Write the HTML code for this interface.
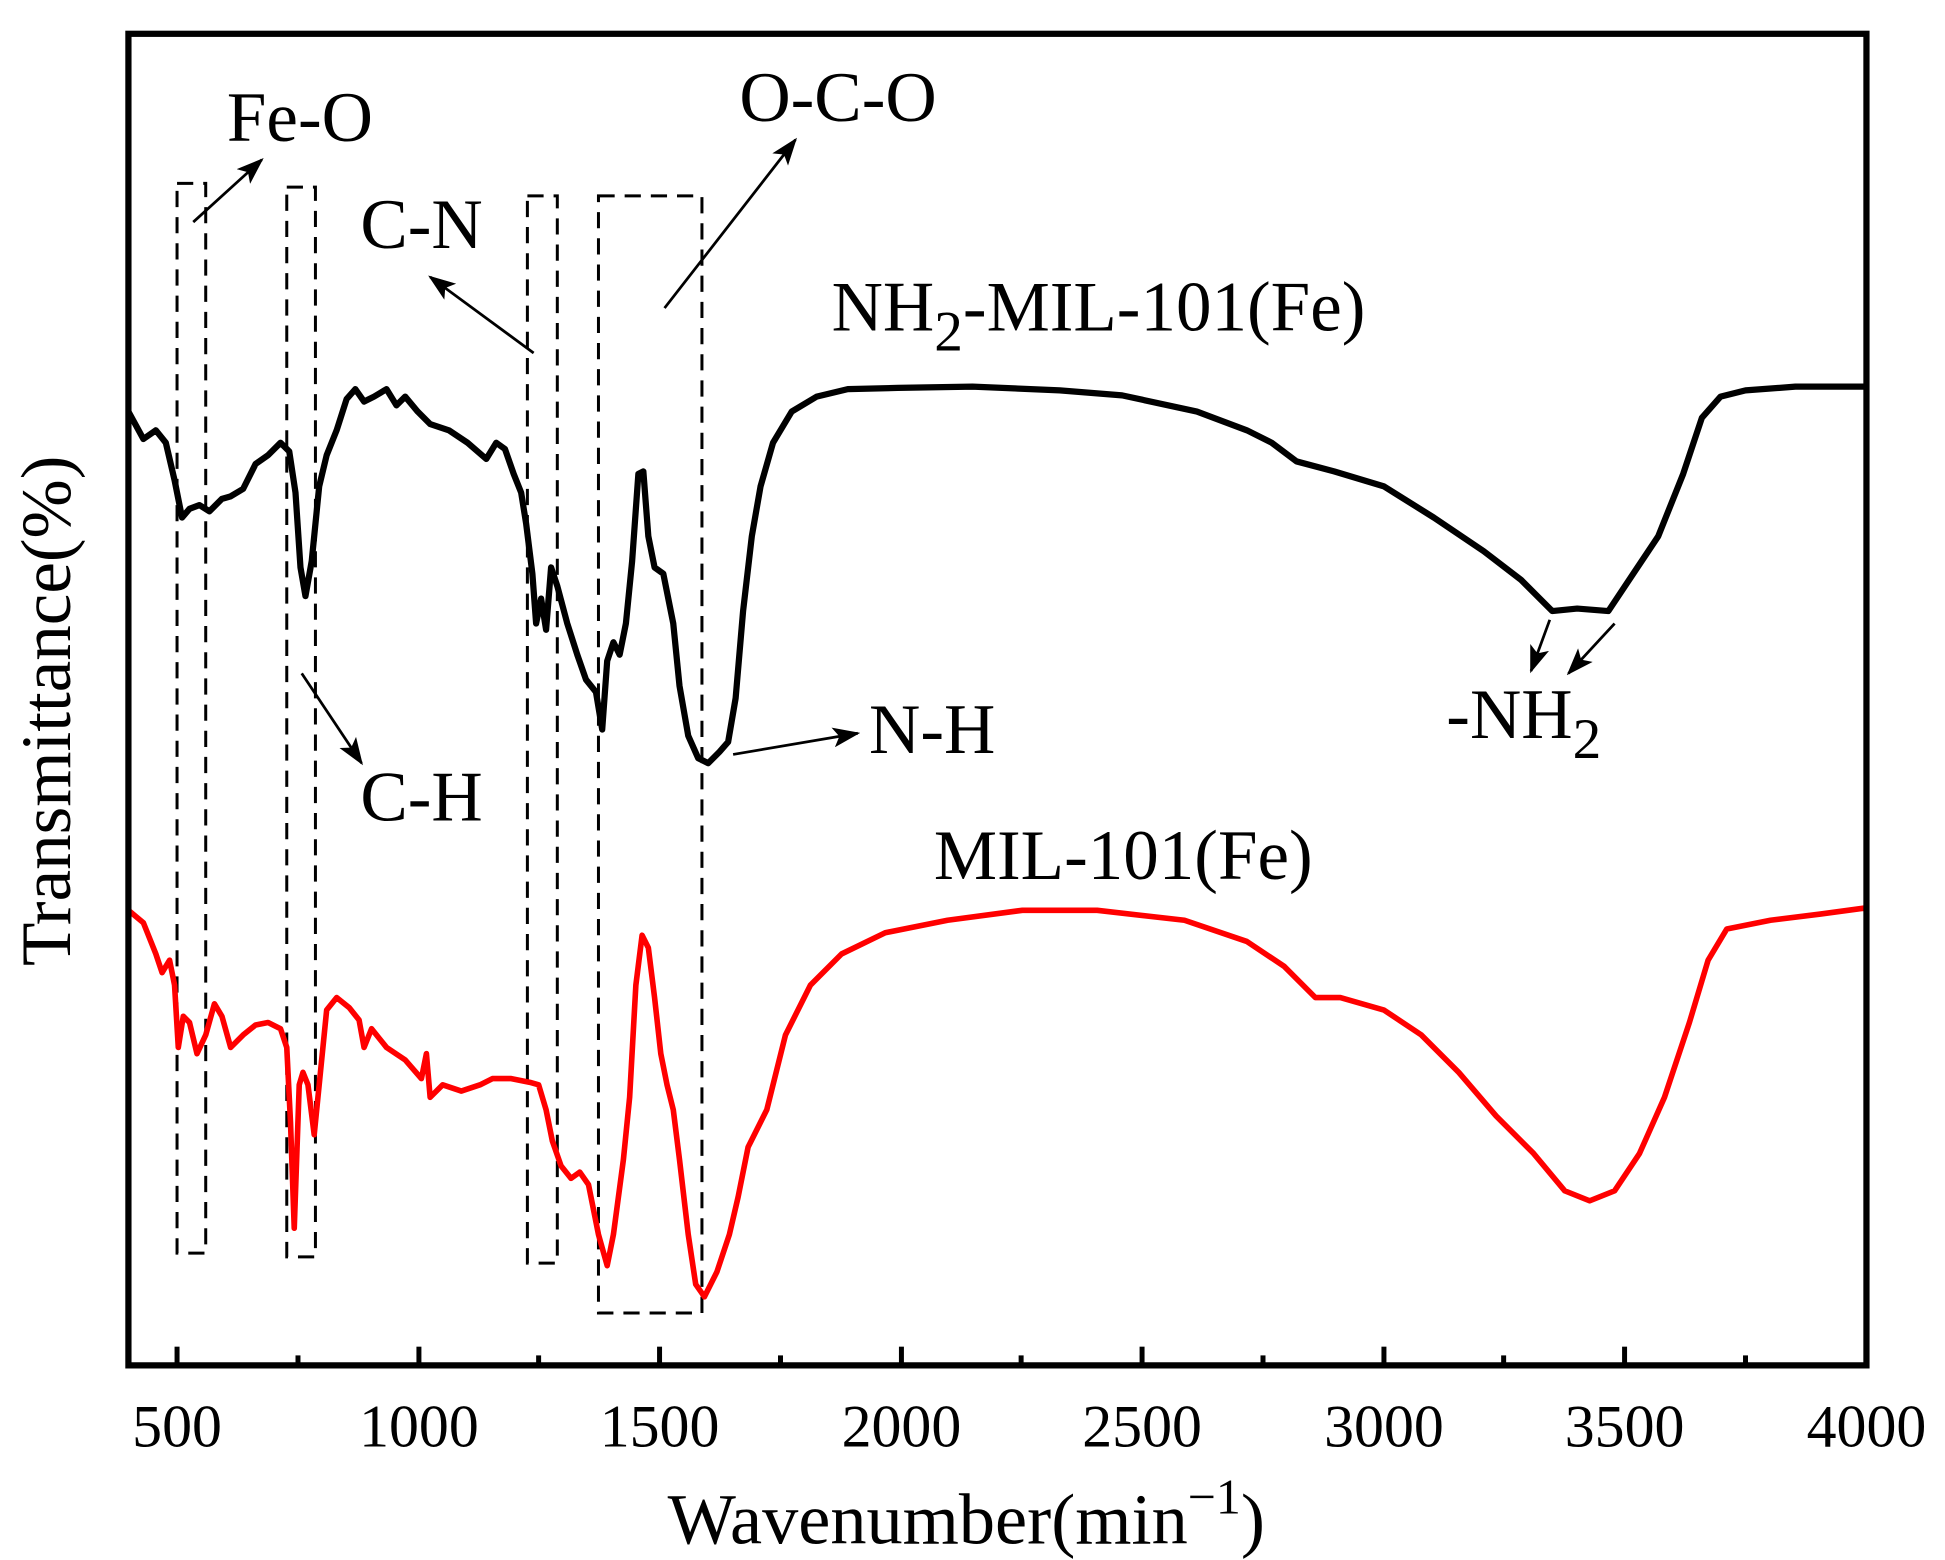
<!DOCTYPE html>
<html><head><meta charset="utf-8"><style>
html,body{margin:0;padding:0;background:#fff}
svg{display:block}
text{font-family:"Liberation Serif",serif;fill:#000}
</style></head><body>
<svg width="1945" height="1560" viewBox="0 0 1560 1251" xmlns="http://www.w3.org/2000/svg">
<defs>
<marker id="ah2" markerWidth="22" markerHeight="16" refX="20" refY="8" orient="auto" markerUnits="userSpaceOnUse"><path d="M0,0 L22,8 L0,16 L5,8 Z" fill="#000"/></marker></defs>
<g fill="none" stroke="#000" stroke-width="2.4" stroke-dasharray="13,8">
<rect x="142" y="147" width="23" height="858"/>
<rect x="230" y="150" width="23" height="858"/>
<rect x="423" y="157" width="24" height="856"/>
<rect x="480" y="157" width="83" height="896"/>
</g>
<polyline fill="none" stroke="#000" stroke-width="5" stroke-linejoin="round" points="103,330 115,352 125,345 133,355 140,385 146,415 152,408 160,405 168,410 178,400 185,398 195,392 205,372 215,365 225,355 232,362 237,395 241,455 245,478 250,450 256,390 262,365 270,345 278,320 285,312 292,322 300,318 310,312 318,325 325,318 335,330 345,340 360,345 375,355 390,368 398,355 405,360 412,380 418,395 422,420 427,460 430,500 434,480 438,505 442,455 447,470 455,500 463,525 470,545 478,555 483,585 487,530 492,515 497,525 502,500 507,450 512,380 516,378 520,430 525,455 532,460 540,500 545,550 552,590 560,608 568,612 577,603 584,595 590,560 596,490 603,430 610,390 620,355 635,330 655,318 680,312 720,311 780,310 850,313 900,317 960,330 1000,345 1020,355 1040,370 1070,378 1110,390 1150,415 1190,442 1220,465 1245,490 1265,488 1290,490 1310,460 1330,430 1350,380 1365,335 1380,318 1400,313 1440,310 1497,310"/>
<polyline fill="none" stroke="#f00" stroke-width="4.5" stroke-linejoin="round" points="103,730 115,740 125,765 130,780 136,770 140,790 143,840 147,815 152,820 158,845 165,830 172,805 178,815 185,840 195,830 205,822 215,820 225,825 230,840 233,900 236,985 240,870 243,860 247,870 252,910 257,860 262,810 270,800 280,808 288,818 292,840 298,825 310,840 325,850 338,865 342,845 345,880 355,870 370,875 385,870 395,865 410,865 425,868 432,870 438,890 443,915 450,935 458,945 465,940 472,950 480,990 487,1015 492,990 500,930 505,880 510,790 515,750 520,760 525,800 530,845 535,870 540,890 545,930 552,990 558,1030 565,1040 575,1020 585,990 592,960 600,920 615,890 630,830 650,790 675,765 710,748 760,738 820,730 880,730 950,738 1000,755 1030,775 1055,800 1075,800 1110,810 1140,830 1170,860 1200,895 1230,925 1255,955 1275,963 1295,955 1315,925 1335,880 1355,820 1370,770 1385,745 1420,738 1460,733 1497,728 1497,1080"/>
<g stroke="#000" stroke-width="2.2" marker-end="url(#ah2)">
<line x1="155" y1="178" x2="210" y2="128"/>
<line x1="428" y1="283" x2="345" y2="222"/>
<line x1="533" y1="247" x2="638" y2="112"/>
<line x1="242" y1="540" x2="290" y2="612"/>
<line x1="588" y1="605" x2="688" y2="588"/>
<line x1="1243" y1="497" x2="1228" y2="538"/>
<line x1="1295" y1="500" x2="1258" y2="540"/>
</g>
<g font-size="57">
<text x="182" y="113">Fe-O</text>
<text x="593" y="97">O-C-O</text>
<text x="289" y="199">C-N</text>
<text x="667" y="265">NH<tspan font-size="46" dy="16">2</tspan><tspan dy="-16">-MIL-101(Fe)</tspan></text>
<text x="289" y="658">C-H</text>
<text x="697" y="604">N-H</text>
<text x="1160" y="592">-NH<tspan font-size="46" dy="16">2</tspan></text>
<text x="749" y="705">MIL-101(Fe)</text>
</g>
<rect x="103" y="27" width="1394" height="1068" fill="none" stroke="#000" stroke-width="5"/>
<g stroke="#000" stroke-width="4">
<line x1="142" y1="1095" x2="142" y2="1080"/><line x1="239" y1="1095" x2="239" y2="1087"/>
<line x1="336" y1="1095" x2="336" y2="1080"/><line x1="432" y1="1095" x2="432" y2="1087"/>
<line x1="529" y1="1095" x2="529" y2="1080"/><line x1="626" y1="1095" x2="626" y2="1087"/>
<line x1="723" y1="1095" x2="723" y2="1080"/><line x1="819" y1="1095" x2="819" y2="1087"/>
<line x1="916" y1="1095" x2="916" y2="1080"/><line x1="1013" y1="1095" x2="1013" y2="1087"/>
<line x1="1110" y1="1095" x2="1110" y2="1080"/><line x1="1206" y1="1095" x2="1206" y2="1087"/>
<line x1="1303" y1="1095" x2="1303" y2="1080"/><line x1="1400" y1="1095" x2="1400" y2="1087"/>
</g>
<g font-size="48" text-anchor="middle">
<text x="142" y="1160">500</text><text x="336" y="1160">1000</text><text x="723" y="1160">2000</text>
<text x="529" y="1160">1500</text><text x="916" y="1160">2500</text><text x="1110" y="1160">3000</text>
<text x="1303" y="1160">3500</text><text x="1497" y="1160">4000</text>
</g>
<text x="775" y="1238" font-size="58" text-anchor="middle">Wavenumber(min<tspan font-size="40" dy="-24">−1</tspan><tspan dy="24">)</tspan></text>
<text transform="translate(56,570) rotate(-90)" font-size="57" text-anchor="middle">Transmittance(%)</text>
</svg>
</body></html>
